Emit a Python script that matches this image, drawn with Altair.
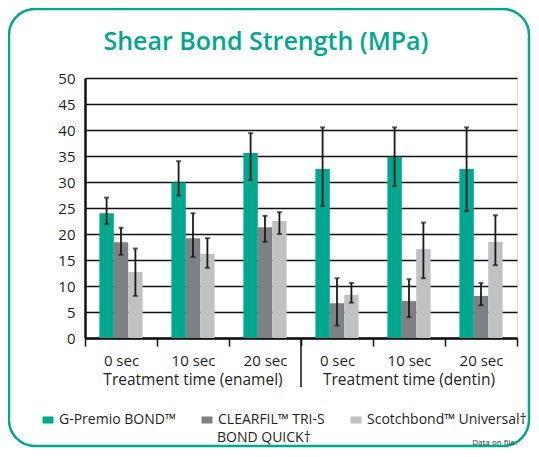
import altair as alt
import pandas as pd

categories = ["enamel|0 sec", "enamel|10 sec", "enamel|20 sec",
              "dentin|0 sec", "dentin|10 sec", "dentin|20 sec"]
series = ["G-Premio BOND™", "CLEARFIL™ TRI-S BOND QUICK†", "Scotchbond™ Universal†"]
colors = ["#00a88e", "#7f8083", "#c0c1c3"]

gp_mean = [24.0, 29.9, 35.6, 32.5, 34.8, 32.5]
gp_low = [21.9, 27.4, 30.4, 25.4, 29.2, 24.4]
gp_high = [27.0, 34.0, 39.4, 40.5, 40.5, 40.5]

cf_mean = [18.4, 19.2, 21.3, 6.7, 7.1, 8.1]
cf_low = [16.0, 15.6, 18.5, 2.4, 4.0, 6.3]
cf_high = [21.2, 24.0, 23.5, 11.5, 11.3, 10.6]

sb_mean = [12.7, 16.2, 22.5, 8.3, 17.1, 18.5]
sb_low = [8.1, 13.5, 20.0, 6.8, 11.5, 14.0]
sb_high = [17.2, 19.2, 24.2, 10.6, 22.2, 23.6]

group_cats = ["enamel|10 sec", "dentin|10 sec"]
group_labels = ["Treatment time (enamel)", "Treatment time (dentin)"]
title_text = ["Shear Bond Strength (MPa)"]
note_text = ["Data on file."]
legend_line2 = ["BOND QUICK†"]

rows = []
for s, ms, los, his in zip(series, [gp_mean, cf_mean, sb_mean],
                           [gp_low, cf_low, sb_low], [gp_high, cf_high, sb_high]):
    for c, m, lo, hi in zip(categories, ms, los, his):
        rows.append({"cat": c, "series": s, "mean": m, "low": lo, "high": hi})
df = pd.DataFrame(rows)

TEAL = "#00a88e"
INK = "#231f20"
FONT = "Open Sans"

xscale = alt.Scale(domain=categories, paddingInner=0, paddingOuter=0)
xoff = alt.XOffset("series:N", sort=series,
                   scale=alt.Scale(domain=series, paddingInner=0, paddingOuter=1))
yscale = alt.Scale(domain=[0, 50], nice=False)
y_axis = alt.Axis(title=None, values=list(range(0, 51, 5)), ticks=False,
                  labelOverlap=False, labelFontSize=15, labelFont=FONT, labelColor=INK,
                  labelPadding=10, domainColor="#111", domainWidth=2.5,
                  gridColor="#111", gridWidth=1.4)

x_main = alt.X("cat:N", sort=categories, scale=xscale,
               axis=alt.Axis(title=None, labelExpr="split(datum.label, '|')[1]",
                             labelAngle=0, tickBand="extent", tickSize=8, tickWidth=1.5,
                             tickColor="#111", domainColor="#111", domainWidth=2.5,
                             labelFontSize=15, labelFont=FONT, labelColor=INK,
                             labelPadding=7, grid=False))

bars = alt.Chart(df).mark_bar().encode(
    x=x_main,
    xOffset=xoff,
    y=alt.Y("mean:Q", scale=yscale, axis=y_axis),
    color=alt.Color("series:N", sort=series,
                    scale=alt.Scale(domain=series, range=colors),
                    legend=alt.Legend(
                        orient="none", legendX=-44, legendY=335,
                        direction="horizontal", columns=3, gridAlign="each",
                        columnPadding=24, title=None, padding=0,
                        symbolType="M-1,-0.64H1V0.64H-1Z", symbolSize=121,
                        symbolStrokeWidth=0, labelFontSize=14, labelFont=FONT,
                        labelColor=INK, labelOffset=4, labelLimit=300,
                        labelExpr="datum.label == 'CLEARFIL™ TRI-S BOND QUICK†' ? 'CLEARFIL™ TRI-S' : datum.label")),
)

err = alt.Chart(df).mark_rule(color="#1a1a1a", strokeWidth=1.8).encode(
    x=alt.X("cat:N", sort=categories, scale=xscale),
    xOffset=xoff,
    y=alt.Y("low:Q", scale=yscale, axis=y_axis),
    y2="high:Q",
)
cap_lo = alt.Chart(df).mark_tick(color="#1a1a1a", size=5, thickness=2, orient="horizontal").encode(
    x=alt.X("cat:N", sort=categories, scale=xscale),
    xOffset=xoff,
    y=alt.Y("low:Q", scale=yscale, axis=y_axis),
)
cap_hi = alt.Chart(df).mark_tick(color="#1a1a1a", size=5, thickness=2, orient="horizontal").encode(
    x=alt.X("cat:N", sort=categories, scale=xscale),
    xOffset=xoff,
    y=alt.Y("high:Q", scale=yscale, axis=y_axis),
)

gdf = pd.DataFrame({"cat": group_cats, "label": group_labels})
glabels = alt.Chart(gdf).mark_text(fontSize=15.5, font=FONT, color=INK, baseline="middle").encode(
    x=alt.X("cat:N", sort=categories, scale=xscale),
    y=alt.value(302),
    text="label:N",
)

divider = alt.Chart(pd.DataFrame({"cat": ["dentin|0 sec"]})).mark_rule(
    color="#111", strokeWidth=1.5).encode(
    x=alt.X("cat:N", sort=categories, scale=xscale, bandPosition=0),
    y=alt.value(261),
    y2=alt.value(309),
)

line2 = alt.Chart(pd.DataFrame({"t": legend_line2})).mark_text(
    align="left", baseline="middle", fontSize=14, font=FONT, color=INK).encode(
    x=alt.value(132), y=alt.value(360), text="t:N")

note = alt.Chart(pd.DataFrame({"t": note_text})).mark_text(
    align="right", baseline="middle", fontSize=8, font=FONT, color="#333").encode(
    x=alt.value(432), y=alt.value(365), text="t:N")

title = alt.Chart(pd.DataFrame({"t": title_text})).mark_text(
    align="center", baseline="alphabetic", fontSize=25, font=FONT, fontWeight=600,
    color=TEAL).encode(x=alt.value(181), y=alt.value(-28), text="t:N")

frame = alt.Chart(pd.DataFrame({"k": [0]})).mark_rect(
    cornerRadius=26, fillOpacity=0, stroke=TEAL, strokeWidth=2.5).encode(
    x=alt.value(-76), x2=alt.value(444), y=alt.value(-69), y2=alt.value(368))

chart = alt.layer(frame, bars, err, cap_lo, cap_hi, divider, glabels, line2, note, title).properties(
    width=432, height=260,
    autosize=alt.AutoSizeParams(type="none"),
    padding={"left": 77, "top": 70, "right": 14, "bottom": 110},
).configure_view(fill="#e4e4e6", stroke="#111", strokeWidth=2).configure(background="white")

chart.save("out.html", embed_options={"renderer": "svg", "actions": False})
